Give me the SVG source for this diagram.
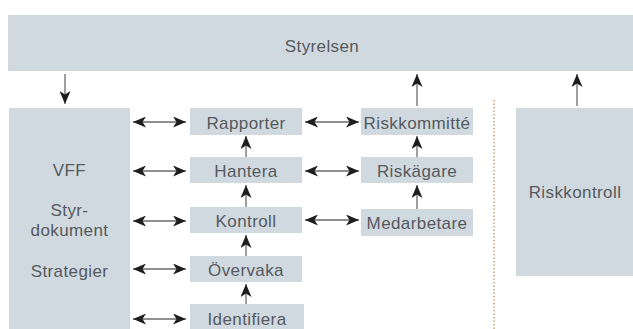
<svg xmlns="http://www.w3.org/2000/svg" width="633" height="329" viewBox="0 0 633 329">
<style>
.box{fill:#d1d9e0}
.t{font-family:"Liberation Sans",Arial,sans-serif;font-size:17px;fill:#55595d;text-anchor:middle;letter-spacing:0.4px}
.c{stroke:#6a6a6a;stroke-width:1.3;fill:none}
.a2{marker-start:url(#ah);marker-end:url(#ah)}
.a1{marker-end:url(#ah)}
.dot{stroke:#c47a3e;stroke-width:1.3;stroke-dasharray:1.3 2.2;fill:none}
</style>
<defs>
<marker id="ah" viewBox="0 0 13 11" refX="13" refY="5.5" markerWidth="13" markerHeight="11" markerUnits="userSpaceOnUse" orient="auto-start-reverse">
<path d="M0,0 L13,5.5 L0,11 L3.5,5.5 Z" fill="#1e1e1e"/>
</marker>
</defs>
<rect width="633" height="329" fill="#fff"/>
<g id="styrelsen"><rect class="box" x="8" y="15" width="625" height="56"/><text class="t" x="322" y="52">Styrelsen</text></g>
<g id="vff"><rect class="box" x="9" y="108" width="121" height="221"/>
<text class="t" x="69.5" y="176">VFF</text>
<text class="t" x="69.5" y="216">Styr-</text>
<text class="t" x="69.5" y="236">dokument</text>
<text class="t" x="69.5" y="277">Strategier</text></g>
<g id="rapporter"><rect class="box" x="190" y="108" width="112" height="27"/><text class="t" x="246" y="129">Rapporter</text></g>
<g id="hantera"><rect class="box" x="190" y="157" width="112" height="26"/><text class="t" x="246" y="177">Hantera</text></g>
<g id="kontroll"><rect class="box" x="190" y="207" width="112" height="26"/><text class="t" x="246" y="227">Kontroll</text></g>
<g id="overvaka"><rect class="box" x="190" y="256" width="112" height="26"/><text class="t" x="246" y="276">Övervaka</text></g>
<g id="identifiera"><rect class="box" x="190" y="304" width="114" height="25"/><text class="t" x="247" y="325">Identifiera</text></g>
<g id="riskkommitte"><rect class="box" x="361" y="108" width="112" height="27"/><text class="t" x="417" y="129">Riskkommitté</text></g>
<g id="riskagare"><rect class="box" x="361" y="157" width="112" height="26"/><text class="t" x="417" y="177">Riskägare</text></g>
<g id="medarbetare"><rect class="box" x="361" y="209" width="112" height="27"/><text class="t" x="417" y="229">Medarbetare</text></g>
<g id="riskkontroll"><rect class="box" x="516" y="108" width="117" height="168"/><text class="t" x="575" y="198">Riskkontroll</text></g>
<line class="dot" x1="494" y1="100" x2="494" y2="329"/>
<g id="connectors">
<line class="c a1" x1="65" y1="74" x2="65" y2="104"/>
<line class="c a1" x1="417" y1="106" x2="417" y2="74"/>
<line class="c a1" x1="577" y1="106" x2="577" y2="74"/>
<line class="c a2" x1="133" y1="122" x2="186" y2="122"/>
<line class="c a2" x1="133" y1="171" x2="186" y2="171"/>
<line class="c a2" x1="133" y1="221" x2="186" y2="221"/>
<line class="c a2" x1="133" y1="269" x2="186" y2="269"/>
<line class="c a2" x1="133" y1="319" x2="186" y2="319"/>
<line class="c a2" x1="305" y1="122" x2="359" y2="122"/>
<line class="c a2" x1="305" y1="171" x2="359" y2="171"/>
<line class="c a2" x1="305" y1="220" x2="359" y2="220"/>
<line class="c a1" x1="246" y1="157" x2="246" y2="136"/>
<line class="c a1" x1="246" y1="207" x2="246" y2="185"/>
<line class="c a1" x1="246" y1="256" x2="246" y2="235"/>
<line class="c a1" x1="246" y1="304" x2="246" y2="284"/>
<line class="c a1" x1="417" y1="157" x2="417" y2="136"/>
<line class="c a1" x1="417" y1="209" x2="417" y2="185"/>
</g>
</svg>
